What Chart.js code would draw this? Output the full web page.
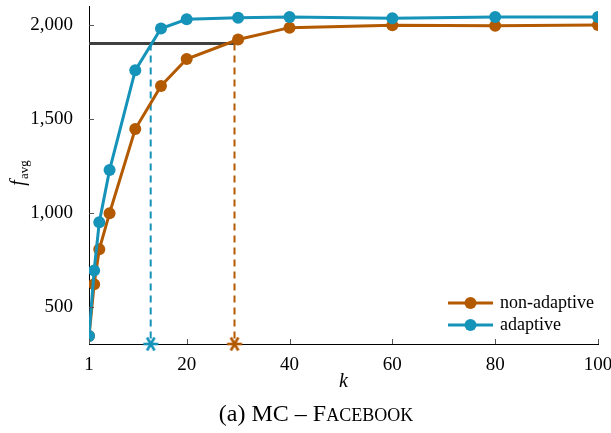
<!DOCTYPE html>
<html>
<head>
<meta charset="utf-8">
<script src="https://cdn.jsdelivr.net/npm/chart.js@4"></script>
<style>
  html, body { margin: 0; padding: 0; background: #fff; }
</style>
</head>
<body>
<canvas id="fb-chart" width="611" height="433"></canvas>
<script>
// data
const kValues = [1, 2, 3, 5, 10, 15, 20, 30, 40, 60, 80, 100];
const nonAdaptive = [345, 621, 806, 998, 1445, 1674, 1817, 1921, 1984, 1997, 1994, 1998];
const adaptive = [345, 694, 950, 1227, 1757, 1979, 2028, 2037, 2041, 2034, 2041, 2041];
const xTicks = [1, 20, 40, 60, 80, 100];
const yTicks = [500, 1000, 1500, 2000];
const target = 1900;
const reachAdaptive = 13;
const reachNonAdaptive = 29.3;
const seriesNames = ['non-adaptive', 'adaptive'];

const orange = '#B35900';
const blue = '#1693B9';
const serif = '"Liberation Serif", "DejaVu Serif", serif';
const yMin = 303;
const yMax = 2099;

function toPoints(xs, ys) {
    return xs.map((x, i) => ({ x: x, y: ys[i] }));
}

// pgfplots style asterisk mark
function asterisk(color) {
    const c = document.createElement('canvas');
    c.width = 18;
    c.height = 18;
    const g = c.getContext('2d');
    g.strokeStyle = color;
    g.lineWidth = 2.6;
    for (const a of [0, 60, 120]) {
        const r = a * Math.PI / 180;
        g.beginPath();
        g.moveTo(9 - 7.5 * Math.cos(r), 9 - 7.5 * Math.sin(r));
        g.lineTo(9 + 7.5 * Math.cos(r), 9 + 7.5 * Math.sin(r));
        g.stroke();
    }
    return c;
}

const fbData = {
    datasets: [{
        label: seriesNames[1],
        data: toPoints(kValues, adaptive),
        borderColor: blue,
        backgroundColor: blue,
        borderWidth: 3,
        pointRadius: 6,
        pointBorderWidth: 0,
        order: 0
    }, {
        label: seriesNames[0],
        data: toPoints(kValues, nonAdaptive),
        borderColor: orange,
        backgroundColor: orange,
        borderWidth: 3,
        pointRadius: 6,
        pointBorderWidth: 0,
        order: 1
    }, {
        // target level
        data: [{ x: 1, y: target }, { x: reachNonAdaptive, y: target }],
        borderColor: '#404040',
        borderWidth: 3,
        pointRadius: 0,
        order: 4
    }, {
        data: [{ x: reachAdaptive, y: target }, { x: reachAdaptive, y: yMin }],
        borderColor: blue,
        borderWidth: 2,
        borderDash: [7, 5],
        pointRadius: 0,
        order: 3
    }, {
        data: [{ x: reachNonAdaptive, y: target }, { x: reachNonAdaptive, y: yMin }],
        borderColor: orange,
        borderWidth: 2,
        borderDash: [7, 5],
        pointRadius: 0,
        order: 3
    }, {
        data: [{ x: reachAdaptive, y: yMin }],
        showLine: false,
        pointStyle: asterisk(blue),
        clip: false,
        order: 2
    }, {
        data: [{ x: reachNonAdaptive, y: yMin }],
        showLine: false,
        pointStyle: asterisk(orange),
        clip: false,
        order: 2
    }]
};

// inward ticks, axis titles, legend and caption
const extrasPlugin = {
    id: 'extras',
    afterDraw(chart) {
        const ctx = chart.ctx;
        const area = chart.chartArea;
        const xs = chart.scales.x;
        const ys = chart.scales.y;

        ctx.save();
        ctx.strokeStyle = '#555';
        ctx.lineWidth = 1;
        xTicks.forEach(v => {
            const px = Math.round(xs.getPixelForValue(v)) + 0.5;
            ctx.beginPath();
            ctx.moveTo(px, area.bottom);
            ctx.lineTo(px, area.bottom - 5);
            ctx.stroke();
        });
        yTicks.forEach(v => {
            const py = Math.round(ys.getPixelForValue(v)) + 0.5;
            ctx.beginPath();
            ctx.moveTo(area.left, py);
            ctx.lineTo(area.left + 5, py);
            ctx.stroke();
        });

        ctx.fillStyle = '#000';
        ctx.textBaseline = 'alphabetic';

        // x title
        ctx.font = 'italic 20px ' + serif;
        ctx.textAlign = 'center';
        ctx.fillText('k', (area.left + area.right) / 2, 387);

        // y title f_avg
        ctx.save();
        ctx.translate(24, 173);
        ctx.rotate(-Math.PI / 2);
        ctx.textAlign = 'left';
        ctx.font = 'italic 20px ' + serif;
        const fw = ctx.measureText('f').width;
        ctx.font = '13px ' + serif;
        const sw = ctx.measureText('avg').width;
        const start = -(fw + sw + 1) / 2;
        ctx.font = 'italic 20px ' + serif;
        ctx.fillText('f', start, 0);
        ctx.font = '13px ' + serif;
        ctx.fillText('avg', start + fw + 1, 4);
        ctx.restore();

        // legend
        const rows = [{ name: seriesNames[0], color: orange, y: 303 }, { name: seriesNames[1], color: blue, y: 325 }];
        rows.forEach(r => {
            ctx.strokeStyle = r.color;
            ctx.lineWidth = 3;
            ctx.beginPath();
            ctx.moveTo(448, r.y);
            ctx.lineTo(493, r.y);
            ctx.stroke();
            ctx.fillStyle = r.color;
            ctx.beginPath();
            ctx.arc(470.5, r.y, 6, 0, Math.PI * 2);
            ctx.fill();
            ctx.fillStyle = '#000';
            ctx.font = '18px ' + serif;
            ctx.textAlign = 'left';
            ctx.textBaseline = 'middle';
            ctx.fillText(r.name, 500, r.y);
        });

        // caption with small caps
        ctx.textBaseline = 'alphabetic';
        ctx.textAlign = 'left';
        const big = '24px ' + serif;
        const small = '18px ' + serif;
        const partA = '(a) MC \u2013 F';
        const partB = 'ACEBOOK';
        ctx.font = big;
        const wa = ctx.measureText(partA).width;
        ctx.font = small;
        const wb = ctx.measureText(partB).width;
        const cx = 316 - (wa + wb) / 2;
        ctx.font = big;
        ctx.fillText(partA, cx, 421);
        ctx.font = small;
        ctx.fillText(partB, cx + wa, 421);
        ctx.restore();
    }
};

const fbOptions = {
    responsive: false,
    animation: false,
    devicePixelRatio: 1,
    layout: {
        padding: { left: 0, right: 13, top: 4, bottom: 0 }
    },
    scales: {
        x: {
            type: 'linear',
            min: 1,
            max: 100,
            afterBuildTicks: s => { s.ticks = xTicks.map(v => ({ value: v })); },
            afterFit: s => { s.height = 89; s.paddingRight = 0; s.paddingLeft = 0; },
            grid: { display: false },
            border: { color: '#000', width: 1 },
            ticks: {
                color: '#000',
                font: { family: serif, size: 19 },
                padding: 2,
                maxRotation: 0
            }
        },
        y: {
            min: yMin,
            max: yMax,
            afterBuildTicks: s => { s.ticks = yTicks.map(v => ({ value: v })); },
            afterFit: s => { s.width = 89; s.paddingTop = 0; s.paddingBottom = 0; },
            grid: { display: false },
            border: { color: '#000', width: 1 },
            ticks: {
                color: '#000',
                font: { family: serif, size: 19 },
                padding: 8,
                callback: v => v.toLocaleString('en-US')
            }
        }
    },
    plugins: {
        legend: { display: false },
        tooltip: { enabled: false }
    }
};

let fbChart = new Chart(document.getElementById('fb-chart'), {
    type: 'line',
    data: fbData,
    options: fbOptions,
    plugins: [extrasPlugin]
});
</script>
</body>
</html>
